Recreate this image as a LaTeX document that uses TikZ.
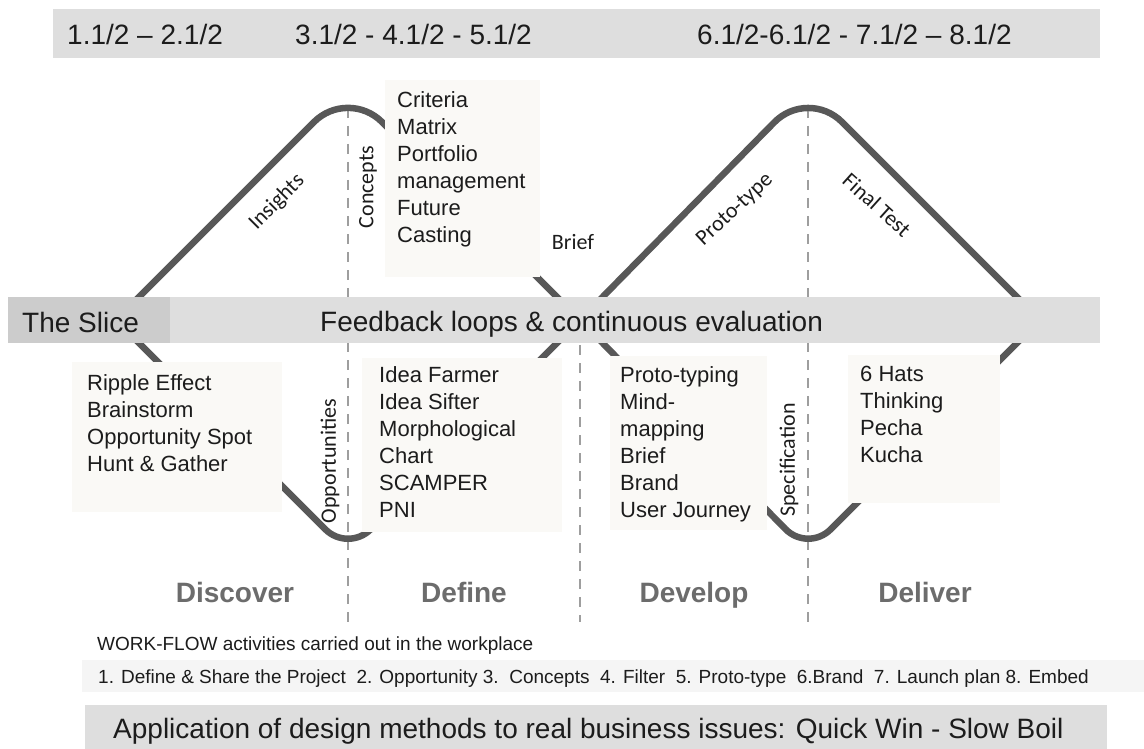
\documentclass[tikz,border=0pt]{standalone}
\usepackage{fontspec}
\setmainfont{Liberation Sans}
\newfontfamily\labelfont{Carlito}
\definecolor{bargray}{RGB}{222,222,222}
\definecolor{slicegray}{RGB}{204,204,204}
\definecolor{bandgray}{RGB}{245,245,245}
\definecolor{boxfill}{RGB}{250,249,246}
\definecolor{linegray}{RGB}{88,88,88}
\definecolor{dashgray}{RGB}{158,158,158}
\definecolor{phasegray}{RGB}{108,108,108}
\definecolor{inkgray}{RGB}{28,28,28}

\begin{document}
\begin{tikzpicture}[x=1pt,y=-1pt,
  every node/.style={inner sep=0pt,text=inkgray},
  methods/.style={anchor=north west,align=left,font=\fontsize{22}{27}\selectfont},
  stagelabel/.style={font=\labelfont\fontsize{22}{26}\selectfont},
  phase/.style={anchor=base,text=phasegray,font=\bfseries\fontsize{28}{32}\selectfont},
  bigtext/.style={anchor=base west,font=\fontsize{28}{32}\selectfont},
  smalltext/.style={anchor=base west,font=\fontsize{19}{22}\selectfont},
  dashline/.style={dashgray,line width=2.5pt,dash pattern=on 10pt off 8pt},
  pathline/.style={linegray,line width=6.5pt}]
\useasboundingbox (0,0) rectangle (1144,749);
\fill[white] (0,0) rectangle (1144,749);

\draw[dashline] (348,108) -- (348,622);
\draw[dashline] (580,345) -- (580,622);
\draw[dashline] (808,108) -- (808,622);

\draw[pathline,rounded corners=48pt] (116,320) -- (348,88) -- (580,320);
\draw[pathline,rounded corners=32pt] (116,320) -- (348,552) -- (580,320);
\draw[pathline,rounded corners=48pt] (580,320) -- (808,88) -- (1040,320);
\draw[pathline,rounded corners=32pt] (580,320) -- (808,552) -- (1040,320);

\fill[bargray] (53,9) rectangle (1100,58);
\node[bigtext] (span1) at (67,45) {1.1/2 – 2.1/2};
\node[bigtext] (span2) at (295,45) {3.1/2 - 4.1/2 - 5.1/2};
\node[bigtext] (span3) at (697,45) {6.1/2-6.1/2 - 7.1/2 – 8.1/2};

\fill[bargray] (170,297) rectangle (1100,343);
\fill[slicegray] (8,297) rectangle (170,343);
\node[bigtext] (slice) at (22,332) {The Slice};
\node[bigtext] (feedback) at (320,331) {Feedback loops \& continuous evaluation};

\fill[boxfill] (385,80) rectangle (540,277);
\fill[boxfill] (72,362) rectangle (282,512);
\fill[boxfill] (362,358) rectangle (562,532);
\fill[boxfill] (610,356) rectangle (767,530);
\fill[boxfill] (848,355) rectangle (1000,503);

\node[methods] (concepts) at (397,91) {Criteria\\Matrix\\Portfolio\\management\\Future\\Casting};
\node[methods] (discover) at (87,374) {Ripple Effect\\Brainstorm\\Opportunity Spot\\Hunt \& Gather};
\node[methods] (define) at (379,366) {Idea Farmer\\Idea Sifter\\Morphological\\Chart\\SCAMPER\\PNI};
\node[methods] (develop) at (620,366) {Proto-typing\\Mind-\\mapping\\Brief\\Brand\\User Journey};
\node[methods] (deliver) at (860,366) {6 Hats\\Thinking\\Pecha\\Kucha};

\node[stagelabel,rotate=45] (insights) at (277,202) {Insights};
\node[stagelabel,rotate=90] (conceptslabel) at (368,187) {Concepts};
\node[stagelabel] (brief) at (573,242) {Brief};
\node[stagelabel,rotate=43] (prototype) at (735,210) {Proto-type};
\node[stagelabel,rotate=-42] (finaltest) at (877,205) {Final Test};
\node[stagelabel,rotate=90] (opportunities) at (330,461) {Opportunities};
\node[stagelabel,rotate=90] (specification) at (789,460) {Specification};

\node[phase] (discoverphase) at (235,602) {Discover};
\node[phase] (definephase) at (464,602) {Define};
\node[phase] (developphase) at (694,602) {Develop};
\node[phase] (deliverphase) at (925,602) {Deliver};

\node[smalltext] (workflow) at (97,650) {WORK-FLOW activities carried out in the workplace};
\fill[bandgray] (82,660) rectangle (1144,692);
\node[smalltext] (steps) at (98,683) {1. Define \& Share the Project\ \ 2. Opportunity 3.\ \ Concepts\ \ 4. Filter\ \ 5. Proto-type\ \ 6.Brand\ \ 7. Launch plan 8. Embed};

\fill[bargray] (85,705) rectangle (1107,749);
\node[bigtext] (application) at (113,738) {Application of design methods to real business issues: Quick Win - Slow Boil};
\end{tikzpicture}
\end{document}
